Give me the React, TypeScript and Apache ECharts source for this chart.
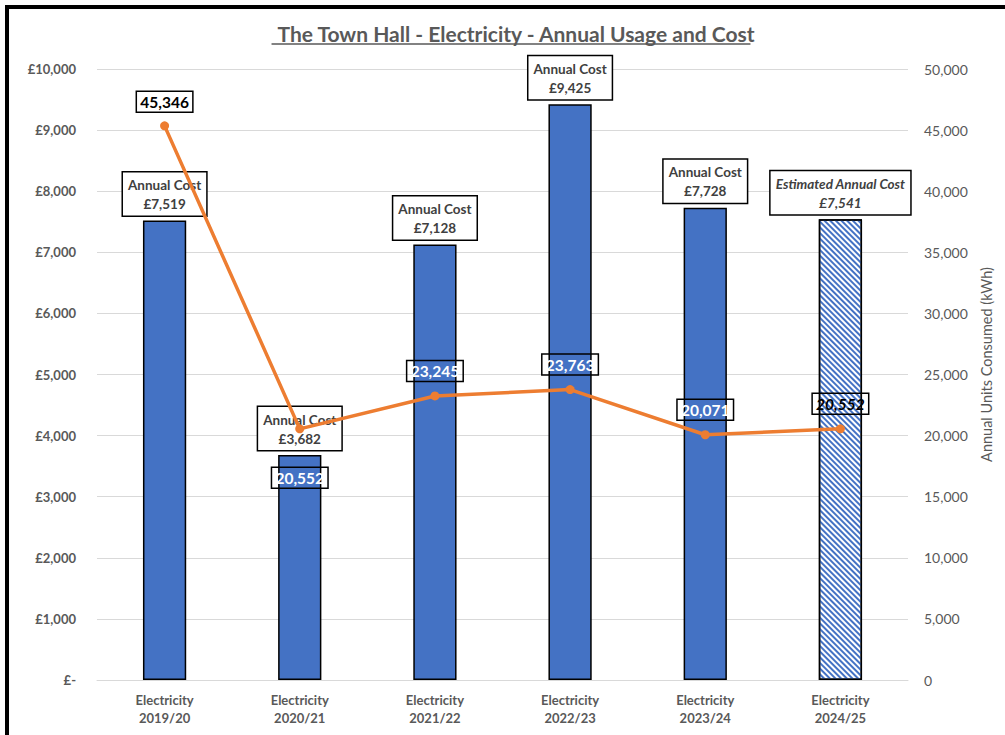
import React, { useEffect, useRef } from "react";
import * as echarts from "echarts";

const categories = [
  "Electricity\n2019/20",
  "Electricity\n2020/21",
  "Electricity\n2021/22",
  "Electricity\n2022/23",
  "Electricity\n2023/24",
  "Electricity\n2024/25",
];
const annualCost = [7519, 3682, 7128, 9425, 7728, 7541];
const unitsConsumed = [45346, 20552, 23245, 23763, 20071, 20552];
const costLabelTitles = [
  "Annual Cost",
  "Annual Cost",
  "Annual Cost",
  "Annual Cost",
  "Annual Cost",
  "Estimated Annual Cost",
];
const estimatedIndex = 5;
const titleText = "The Town Hall - Electricity - Annual Usage and Cost";

const FONT = "Lato, 'Open Sans', sans-serif";
const fmt = (v: number) => v.toLocaleString("en-GB");

export default function App() {
  const ref = useRef<HTMLDivElement>(null);
  useEffect(() => {
    document.body.style.margin = "0";
    if (!ref.current) return;
    const chart = echarts.init(ref.current, undefined, { renderer: "svg" });

    const cv = document.createElement("canvas");
    const ctx = cv.getContext("2d")!;
    ctx.font = "bold 21px Lato";
    const tw = ctx.measureText(titleText).width;
    const titleCx = 511;

    const barData = annualCost.map((v, i) => {
      const est = i === estimatedIndex;
      return {
        value: v,
        itemStyle: est
          ? {
              color: "#ffffff",
              borderColor: "#000",
              borderWidth: 1.5,
              decal: {
                symbol: "rect",
                color: "#4472C4",
                backgroundColor: "#ffffff",
                dashArrayX: [1, 0],
                dashArrayY: [1.6, 1.6],
                rotation: Math.PI / 4,
              },
            }
          : { color: "#4472C4", borderColor: "#000", borderWidth: 1.5 },
        label: {
          formatter: est
            ? `{e|${costLabelTitles[i]}}\n{e|£${fmt(v)}}`
            : `{a|${costLabelTitles[i]}}\n{a|£${fmt(v)}}`,
        },
      };
    });

    const lineData = unitsConsumed.map((v, i) => {
      const onBar = i >= 1 && i <= 4;
      const italic = i === estimatedIndex;
      return {
        value: v,
        label: {
          position: i === 1 ? "bottom" : "top",
          distance: i === 1 ? 34 : i === 0 ? 9 : 10,
          color: onBar ? "#ffffff" : "#000000",
          fontStyle: italic ? "italic" : "normal",
        },
      };
    });

    chart.setOption({
      animation: false,
      backgroundColor: "#ffffff",
      textStyle: { fontFamily: FONT },
      title: {
        text: titleText,
        left: titleCx,
        textAlign: "center",
        top: 18,
        textStyle: {
          fontFamily: FONT,
          fontSize: 21,
          fontWeight: "bold",
          color: "#595959",
        },
      },
      graphic: [
        {
          type: "line",
          shape: { x1: titleCx - tw / 2, y1: 44, x2: titleCx + tw / 2, y2: 44 },
          style: { stroke: "#595959", lineWidth: 1.5 },
        },
        {
          type: "rect",
          shape: { x: 7, y: 7, width: 1200, height: 1000 },
          style: { fill: "none", stroke: "#000", lineWidth: 4 },
          z: 100,
        },
      ],
      grid: { left: 97, right: 97, top: 69, bottom: 55 },
      xAxis: {
        type: "category",
        data: categories,
        axisTick: { show: false },
        axisLine: { lineStyle: { color: "#D9D9D9", width: 1 } },
        axisLabel: {
          color: "#595959",
          fontSize: 13,
          fontWeight: "bold",
          margin: 11,
          lineHeight: 18,
          fontFamily: FONT,
        },
      },
      yAxis: [
        {
          type: "value",
          min: 0,
          max: 10000,
          interval: 1000,
          axisLine: { show: false },
          axisTick: { show: false },
          splitLine: { lineStyle: { color: "#D9D9D9", width: 1 } },
          axisLabel: {
            color: "#595959",
            fontSize: 13,
            fontWeight: "bold",
            margin: 21,
            fontFamily: FONT,
            formatter: (v: number) => (v === 0 ? "£-" : "£" + fmt(v)),
          },
        },
        {
          type: "value",
          min: 0,
          max: 50000,
          interval: 5000,
          position: "right",
          axisLine: { show: false },
          axisTick: { show: false },
          splitLine: { show: false },
          name: "Annual Units Consumed (kWh)",
          nameLocation: "middle",
          nameRotate: 90,
          nameGap: 68,
          nameTextStyle: {
            color: "#595959",
            fontSize: 14.5,
            fontFamily: FONT,
            padding: [0, 0, 0, 20],
          },
          axisLabel: {
            color: "#595959",
            fontSize: 14,
            margin: 16,
            fontFamily: FONT,
            formatter: (v: number) => fmt(v),
          },
        },
      ],
      series: [
        {
          type: "bar",
          yAxisIndex: 0,
          data: barData,
          barWidth: "32%",
          label: {
            show: true,
            position: "top",
            distance: 5,
            backgroundColor: "#ffffff",
            borderColor: "#000000",
            borderWidth: 1.5,
            padding: [3, 5, 2, 5],
            rich: {
              a: {
                fontSize: 13.5,
                fontWeight: "bold",
                color: "#404040",
                lineHeight: 19,
                align: "center",
                fontFamily: FONT,
              },
              e: {
                fontSize: 13.5,
                fontWeight: "bold",
                fontStyle: "italic",
                color: "#404040",
                lineHeight: 19,
                align: "center",
                fontFamily: FONT,
              },
            },
          },
        },
        {
          type: "line",
          yAxisIndex: 1,
          data: lineData,
          z: 5,
          symbol: "circle",
          symbolSize: 9,
          lineStyle: { color: "#ED7D31", width: 3.5 },
          itemStyle: { color: "#ED7D31" },
          label: {
            show: true,
            formatter: (p: any) => fmt(p.value),
            fontSize: 15.5,
            fontWeight: "bold",
            fontFamily: FONT,
            borderColor: "#000000",
            borderWidth: 1.5,
            padding: [3, 4, 2, 4],
          },
        },
      ],
    });
    return () => chart.dispose();
  }, []);
  return <div ref={ref} style={{ width: 1005, height: 735 }} />;
}
